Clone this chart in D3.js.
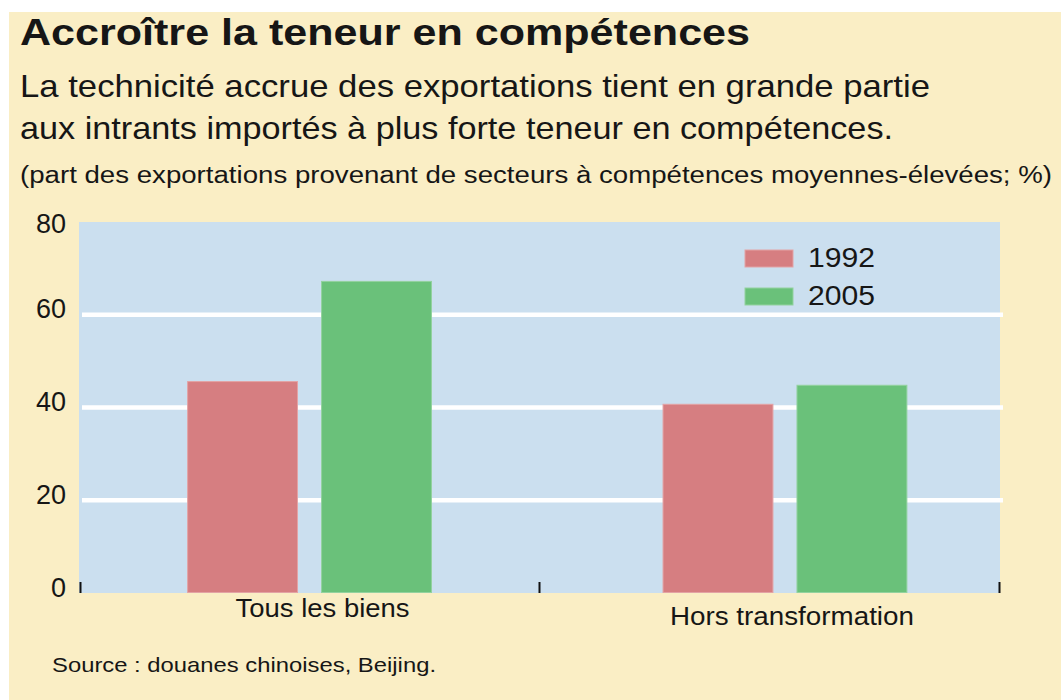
<!DOCTYPE html>
<html>
<head>
<meta charset="utf-8">
<script src="https://cdn.jsdelivr.net/npm/d3@7"></script>
<style>
  html, body { margin: 0; padding: 0; background: #ffffff; }
  svg { display: block; }
  text { font-family: "Liberation Sans", Arial, sans-serif; fill: #161616; }
</style>
</head>
<body>
<svg id="chart" width="1061" height="700"></svg>
<script>
// ---- data ----
const categories = ["Tous les biens", "Hors transformation"];
const seriesNames = ["1992", "2005"];
const values1992 = [45.7, 40.8];
const values2005 = [67.3, 44.9];
const yTicks = [0, 20, 40, 60, 80];
const gridTicks = [20, 40, 60];
const seriesColors = ["#D67E81", "#6AC17A"];
const seriesStroke = ["#E3A3A5", "#93D29F"];

const titleText = "Accroître la teneur en compétences";
const subtitleLines = [
  "La technicité accrue des exportations tient en grande partie",
  "aux intrants importés à plus forte teneur en compétences."
];
const noteText = "(part des exportations provenant de secteurs à compétences moyennes-élevées; %)";
const sourceText = "Source : douanes chinoises, Beijing.";

const table = categories.map((c, i) => ({ cat: c, vals: [values1992[i], values2005[i]] }));

// ---- layout ----
const svg = d3.select("#chart");
const plot = { left: 79, right: 1000, top: 222, bottom: 593 };

svg.append("rect").attr("x", 9).attr("y", 12).attr("width", 1052).attr("height", 688)
  .attr("fill", "#FAEEC5");

// Titles
svg.append("text").attr("x", 20).attr("y", 45)
  .attr("font-size", 36).attr("font-weight", "bold")
  .attr("textLength", 730).attr("lengthAdjust", "spacingAndGlyphs")
  .text(titleText);
const subY = [97, 139];
const subW = [910, 873];
subtitleLines.forEach((t, i) => {
  svg.append("text").attr("x", 20).attr("y", subY[i])
    .attr("font-size", 32)
    .attr("textLength", subW[i]).attr("lengthAdjust", "spacingAndGlyphs")
    .text(t);
});
svg.append("text").attr("x", 20).attr("y", 183)
  .attr("font-size", 23)
  .attr("textLength", 1032).attr("lengthAdjust", "spacingAndGlyphs")
  .text(noteText);

// Scales
const y = d3.scaleLinear().domain([0, 80]).range([plot.bottom, plot.top]);
const x0 = d3.scaleBand().domain(categories).range([80, 999])
  .paddingInner(0.485).paddingOuter(0.209).align(0.539);
const x1 = d3.scaleBand().domain(seriesNames).range([0, x0.bandwidth()])
  .paddingInner(0.172).paddingOuter(0);

// Plot background
svg.append("rect").attr("x", plot.left).attr("y", plot.top)
  .attr("width", plot.right - plot.left).attr("height", plot.bottom - plot.top)
  .attr("fill", "#CBDFEF");

// Gridlines
svg.append("g").selectAll("line").data(gridTicks).join("line")
  .attr("x1", plot.left + 3).attr("x2", plot.right + 3)
  .attr("y1", d => y(d)).attr("y2", d => y(d))
  .attr("stroke", "#ffffff").attr("stroke-width", 4.5);

// Bars
const groups = svg.append("g").selectAll("g").data(table).join("g")
  .attr("transform", d => `translate(${x0(d.cat)},0)`);
groups.selectAll("rect").data(d => d.vals.map((v, j) => ({ s: seriesNames[j], v, j })))
  .join("rect")
  .attr("x", d => x1(d.s) + 0.5)
  .attr("y", d => y(d.v) + 0.5)
  .attr("width", x1.bandwidth() - 1)
  .attr("height", d => y(0) - y(d.v) - 1)
  .attr("fill", d => seriesColors[d.j])
  .attr("stroke", d => seriesStroke[d.j])
  .attr("stroke-width", 1);

// Y axis labels
const yAxis = d3.axisLeft(y).tickValues(yTicks).tickSize(0).tickPadding(0);
const yg = svg.append("g").attr("transform", `translate(66,0)`).call(yAxis);
yg.select(".domain").remove();
yg.selectAll("text")
  .attr("font-size", 27)
  .attr("font-family", "'Liberation Sans', Arial, sans-serif")
  .attr("fill", "#161616")
  .attr("dy", "0")
  .attr("y", 3)
  .style("dominant-baseline", "alphabetic");
yg.selectAll(".tick").filter(d => d === 80).select("text").attr("y", 10);

// X axis ticks (category boundaries)
const boundaryTicks = [80, 539, 999];
const xTickScale = d3.scaleLinear().domain([80, 999]).range([80, 999]);
const xAxis = d3.axisBottom(xTickScale).tickValues(boundaryTicks).tickSize(-11).tickFormat("");
const xg = svg.append("g").attr("transform", `translate(0,${plot.bottom})`).call(xAxis);
xg.select(".domain").remove();
xg.selectAll("line").attr("stroke", "#111").attr("stroke-width", 2);

// Category labels
const labelDx = [13, 7];
const labelY = [617, 625];
const labelW = [174, 244];
svg.append("g").selectAll("text").data(categories).join("text")
  .attr("x", (d, i) => x0(d) + x0.bandwidth() / 2 + labelDx[i])
  .attr("y", (d, i) => labelY[i])
  .attr("text-anchor", "middle")
  .attr("font-size", 26)
  .attr("textLength", (d, i) => labelW[i]).attr("lengthAdjust", "spacingAndGlyphs")
  .text(d => d);

// Legend
const legend = svg.append("g").attr("transform", "translate(745,250)");
const lg = legend.selectAll("g").data(seriesNames).join("g")
  .attr("transform", (d, i) => `translate(0,${i * 38})`);
lg.append("rect").attr("x", 0).attr("y", 0).attr("width", 48).attr("height", 17)
  .attr("fill", (d, i) => seriesColors[i])
  .attr("stroke", (d, i) => seriesStroke[i]).attr("stroke-width", 1);
lg.append("text").attr("x", 63).attr("y", 17)
  .attr("font-size", 28)
  .attr("textLength", 67).attr("lengthAdjust", "spacingAndGlyphs")
  .text(d => d);

// Source
svg.append("text").attr("x", 52).attr("y", 672)
  .attr("font-size", 21)
  .attr("textLength", 384).attr("lengthAdjust", "spacingAndGlyphs")
  .text(sourceText);
</script>
</body>
</html>
